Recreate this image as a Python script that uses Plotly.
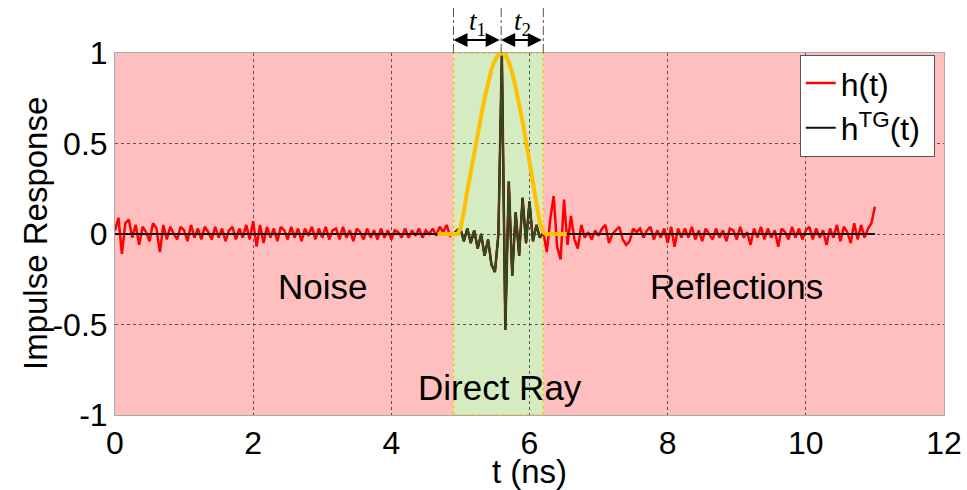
import numpy as np
import plotly.graph_objects as go

# ---------------- data ----------------
t_start = 0.0
t_step = 0.05  # ns, sampling step of the impulse responses

# h(t) values, in 1-ns chunks
h_0_1 = [0.02, 0.09, -0.11, 0.06, 0.08, -0.02, 0.05, -0.06, 0.04, 0.01,
         -0.04, 0.06, 0.03, -0.10, 0.05, -0.03, 0.04, 0.00, -0.03, 0.04]
h_1_2 = [0.02, -0.04, 0.05, -0.02, 0.03, -0.03, 0.04, 0.01, -0.03, 0.04,
         -0.02, 0.03, -0.04, 0.02, 0.04, -0.03, 0.03, -0.02, 0.05, -0.03]
h_2_3 = [0.07, -0.07, 0.05, -0.05, 0.04, -0.02, 0.03, -0.04, 0.04, 0.02,
         -0.03, 0.04, -0.02, 0.03, -0.04, 0.03, -0.01, 0.04, -0.03, 0.03]
h_3_4 = [-0.02, 0.04, -0.03, 0.02, 0.03, -0.03, 0.04, -0.02, 0.02, -0.04,
         0.03, 0.01, -0.03, 0.03, -0.02, 0.02, -0.03, 0.03, -0.02, 0.02]
h_4_49 = [-0.03, 0.02, 0.01, -0.02, 0.03, -0.02, 0.02, -0.01, 0.03, -0.02,
          0.02, 0.00, 0.03, -0.01, 0.04, 0.01, 0.05, -0.01]
h_direct = [0.00, 0.02, 0.03, -0.04, 0.03, -0.05, 0.02, -0.08, 0.00, -0.12,
            -0.03, -0.17, -0.21, 0.00, 1.00, -0.53, 0.29, -0.23, 0.12, -0.12,
            0.20, -0.05, 0.18, -0.04, 0.05, -0.02, 0.01]
h_62_72 = [-0.10, 0.08, 0.21, -0.07, -0.14, 0.19, -0.06, 0.10, -0.03, -0.08,
           0.05, -0.02, 0.01, -0.03, 0.02, -0.01, 0.03, 0.05, -0.05, 0.00]
h_72_82 = [0.02, 0.04, -0.03, -0.06, -0.04, 0.03, 0.01, 0.03, -0.02, 0.02,
           0.04, -0.03, 0.02, -0.02, 0.03, -0.05, 0.04, -0.07, 0.03, -0.02]
h_82_92 = [0.03, -0.02, 0.04, -0.03, 0.02, -0.04, 0.03, 0.00, -0.03, 0.03,
           -0.02, 0.02, -0.04, 0.03, 0.02, -0.03, 0.04, -0.02, 0.01, -0.06]
h_92_102 = [0.03, -0.02, 0.04, -0.03, 0.03, -0.02, 0.02, -0.07, 0.03, 0.01,
            -0.03, 0.04, -0.02, 0.03, -0.03, 0.02, 0.04, -0.03, 0.03, -0.02]
h_102_11 = [0.02, -0.06, 0.03, -0.02, 0.05, -0.04, 0.04, 0.01, -0.05, 0.06,
            -0.03, 0.05, -0.02, 0.03, 0.06, 0.15]

# time-gating window (ns)
window_start = 4.9
peak_t = 5.59
window_end = 6.2

# gate (window function) drawn in orange
gate_t = [4.67, 4.96, 5.00, 5.05, 5.10, 5.15, 5.20, 5.25, 5.30, 5.35, 5.40,
          5.45, 5.50, 5.55, 5.59, 5.65, 5.70, 5.75, 5.80, 5.85, 5.90, 5.95,
          6.00, 6.05, 6.10, 6.15, 6.20, 6.24, 6.54]
gate_v = [0.0, 0.0, 0.03, 0.12, 0.24, 0.35, 0.45, 0.55, 0.65, 0.75, 0.84,
          0.91, 0.96, 0.99, 1.0, 0.99, 0.95, 0.89, 0.81, 0.72, 0.62, 0.51,
          0.40, 0.28, 0.16, 0.06, 0.01, 0.0, 0.0]

x_ticks = [0, 2, 4, 6, 8, 10, 12]
y_ticks = [-1, -0.5, 0, 0.5, 1]
y_tick_text = ["-1", "-0.5", "0", "0.5", "1"]

# ---------------- build series ----------------
h = np.array(h_0_1 + h_1_2 + h_2_3 + h_3_4 + h_4_49 + h_direct +
             h_62_72 + h_72_82 + h_82_92 + h_92_102 + h_102_11)
t = np.round(t_start + t_step * np.arange(len(h)), 3)
in_win = (t >= window_start - 1e-9) & (t <= window_end + 1e-9)
h_tg = np.where(in_win, h, 0.0)

FONT = "Liberation Sans, Arial, sans-serif"

fig = go.Figure()
fig.add_trace(go.Scatter(x=t, y=h, mode="lines", name="h(t)",
                         line=dict(color="#ff0000", width=2.5)))
fig.add_trace(go.Scatter(x=t, y=h_tg, mode="lines", name="h<sup>TG</sup>(t) ",
                         line=dict(color="#111111", width=2)))
fig.add_trace(go.Scatter(x=t[in_win], y=h_tg[in_win], mode="lines",
                         showlegend=False, hoverinfo="skip",
                         line=dict(color="#2f4d1e", width=2)))
fig.add_trace(go.Scatter(x=gate_t, y=gate_v, mode="lines", showlegend=False,
                         line=dict(color="#ffc000", width=4)))

shapes = [
    dict(type="rect", xref="x", yref="y", x0=0, x1=window_start, y0=-1, y1=1,
         fillcolor="#ffbfbf", line=dict(width=0), layer="below"),
    dict(type="rect", xref="x", yref="y", x0=window_end, x1=12, y0=-1, y1=1,
         fillcolor="#ffbfbf", line=dict(width=0), layer="below"),
    dict(type="rect", xref="x", yref="y", x0=window_start, x1=window_end,
         y0=-1, y1=1, fillcolor="#d5ebc1",
         line=dict(color="#ffc000", width=1.5, dash="dot"), layer="below"),
]
for xv in (window_start, peak_t, window_end):
    shapes.append(dict(type="line", xref="x", yref="paper", x0=xv, x1=xv,
                       y0=1.0, y1=1.125, layer="above",
                       line=dict(color="#555555", width=1, dash="dashdot")))

arrow_style = dict(xref="x", yref="paper", axref="x", ayref="pixel", ay=0,
                   text="", showarrow=True, arrowhead=2, startarrowhead=2,
                   arrowside="end+start", arrowwidth=2, arrowsize=1.4,
                   startarrowsize=1.4, arrowcolor="black")
label_font = dict(family="Liberation Serif, serif", size=27, color="black")

annotations = [
    dict(x=window_start, y=1.036, ax=peak_t, **arrow_style),
    dict(x=peak_t, y=1.036, ax=window_end, **arrow_style),
    dict(x=(window_start + peak_t) / 2, y=1.083, xref="x", yref="paper",
         xanchor="center", yanchor="middle",
         text="<i>t</i><sub>1</sub>", showarrow=False, font=label_font),
    dict(x=(peak_t + window_end) / 2, y=1.083, xref="x", yref="paper",
         xanchor="center", yanchor="middle",
         text="<i>t</i><sub>2</sub>", showarrow=False, font=label_font),
    dict(x=3.0, y=-0.29, xref="x", yref="y", text="Noise", showarrow=False,
         font=dict(family=FONT, size=35, color="black")),
    dict(x=9.0, y=-0.29, xref="x", yref="y", text="Reflections",
         showarrow=False, font=dict(family=FONT, size=35, color="black")),
    dict(x=5.57, y=-0.85, xref="x", yref="y", text="Direct Ray",
         showarrow=False, font=dict(family=FONT, size=35, color="black")),
    # y-axis title
    dict(x=-0.0965, y=0.5, xref="paper", yref="paper", xanchor="center",
         yanchor="middle", textangle=-90, text="Impulse Response",
         showarrow=False, font=dict(family=FONT, size=33, color="black")),
]

fig.update_layout(
    width=967, height=490,
    margin=dict(l=115, r=23, t=53, b=75),
    paper_bgcolor="white", plot_bgcolor="white",
    font=dict(family=FONT, size=32, color="black"),
    shapes=shapes, annotations=annotations,
    legend=dict(x=0.826, y=0.995, xanchor="left", yanchor="top",
                bgcolor="white", bordercolor="#555555", borderwidth=1,
                font=dict(size=32), tracegroupgap=0),
    showlegend=True,
)
fig.update_xaxes(range=[0, 12], tickvals=x_ticks, ticktext=[str(v) for v in x_ticks],
                 showgrid=True, gridcolor="#555555", gridwidth=1, griddash="dot",
                 zeroline=False, showline=True, linecolor="#aaaaaa", mirror=True,
                 ticks="", title=dict(text="t (ns)", font=dict(size=33), standoff=0),
                 automargin=False)
fig.update_yaxes(range=[-1, 1], tickvals=y_ticks, ticktext=y_tick_text,
                 showgrid=True, gridcolor="#555555", gridwidth=1, griddash="dot",
                 zeroline=False, showline=True, linecolor="#aaaaaa", mirror=True,
                 ticks="", automargin=False)

fig.write_html("out.html")
